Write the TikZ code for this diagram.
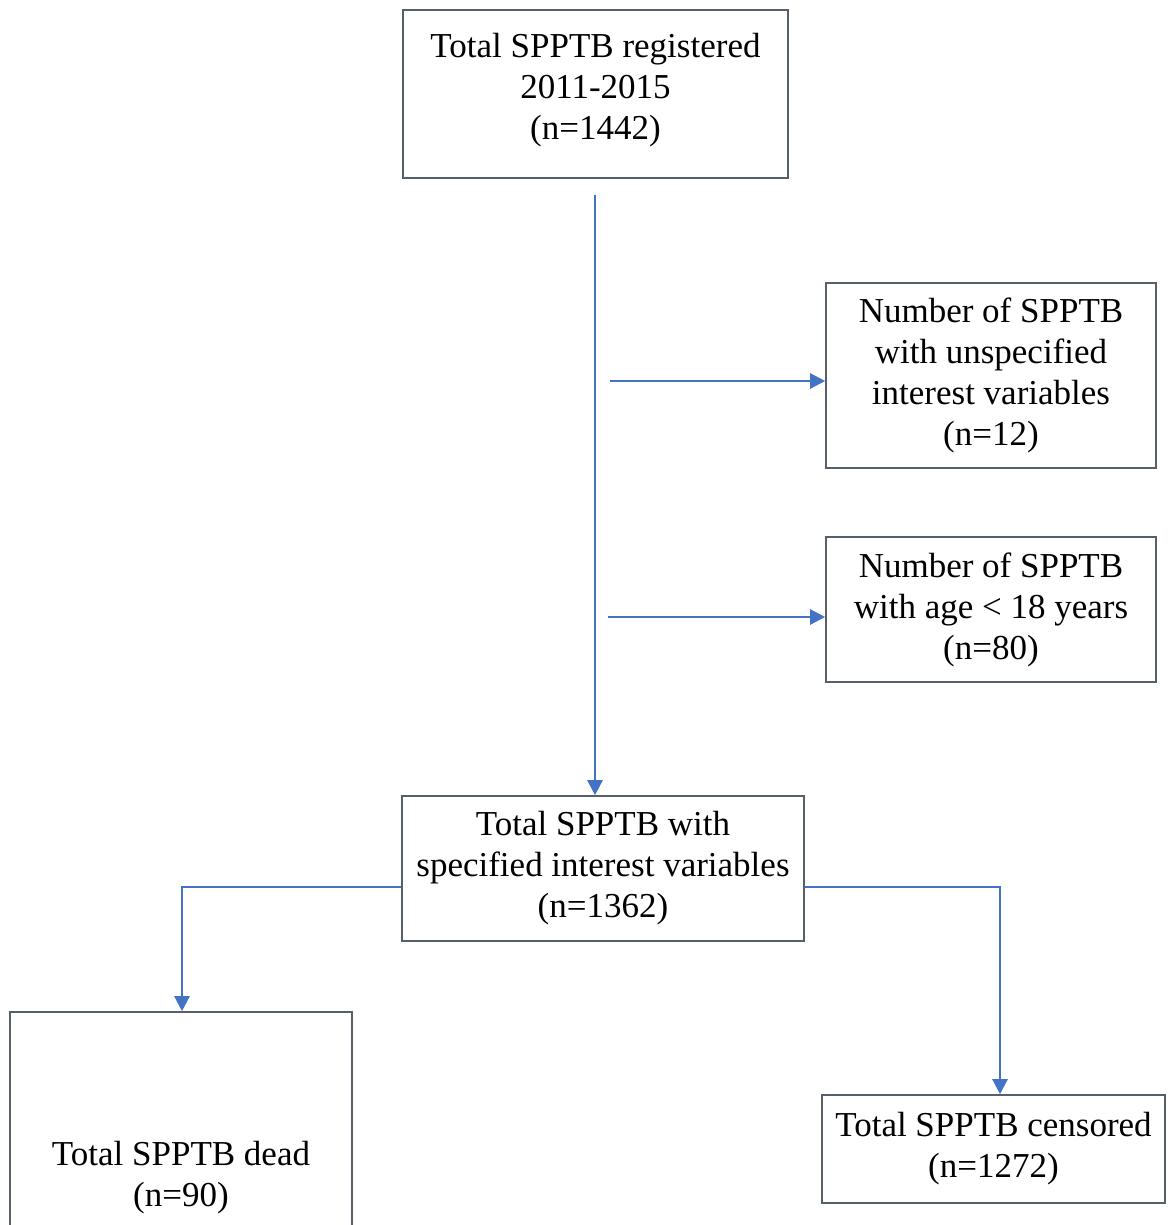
\documentclass[tikz,border=0pt]{standalone}
\usepackage{fontspec}
\setmainfont{Liberation Serif}
\usetikzlibrary{arrows.meta,calc}
\definecolor{lineblue}{HTML}{4472C4}
\definecolor{boxgray}{HTML}{55606B}
\tikzset{
  box/.style={draw=boxgray, line width=0.8pt, rectangle, inner sep=0pt, align=center, font=\fontsize{17.5}{20.5}\selectfont},
  txt/.style={inner sep=0pt, align=center, font=\fontsize{17.5}{20.5}\selectfont},
  conn/.style={draw=lineblue, line width=1.2pt, -{Triangle[length=7.5pt,width=7.5pt]}}
}
\begin{document}
\begin{tikzpicture}[x=0.5pt,y=-0.5pt]
\useasboundingbox[fill=white] (0,0) rectangle (1167,1225);
\node[box, minimum width=192.5pt, minimum height=84pt] (top) at (595.5,94) {Total SPPTB registered\\2011-2015\\(n=1442)\\[-13pt]};
\node[box, minimum width=165pt, minimum height=92.5pt] (unspec) at (991,375.5) {Number of SPPTB\\with unspecified\\interest variables\\(n=12)};
\node[box, minimum width=165pt, minimum height=72.5pt] (age) at (991,609.5) {Number of SPPTB\\with age {<} 18 years\\(n=80)};
\node[box, minimum width=201pt, minimum height=72.5pt] (mid) at (603,868.5) {Total SPPTB with\\specified interest variables\\(n=1362)};
\node[box, minimum width=171pt, minimum height=114pt] (dead) at (181,1126) {};
\node[txt] (deadtxt) at (181,1178) {Total SPPTB dead\\(n=90)};
\node[box, minimum width=171.5pt, minimum height=54pt] (cens) at (993.5,1149) {Total SPPTB censored\\(n=1272)};
\coordinate (s0) at (595,195);
\coordinate (h1) at (610,381);
\coordinate (h2) at (608,617);
\draw[conn] (s0) -- (s0 |- mid.north);
\draw[conn] (h1) -- (h1 -| unspec.west);
\draw[conn] (h2) -- (h2 -| age.west);
\coordinate (bl) at (182,887);
\coordinate (br) at (1000,887);
\draw[conn] (bl -| mid.west) -- (bl) -- (bl |- dead.north);
\draw[conn] (br -| mid.east) -- (br) -- (br |- cens.north);
\end{tikzpicture}
\end{document}
